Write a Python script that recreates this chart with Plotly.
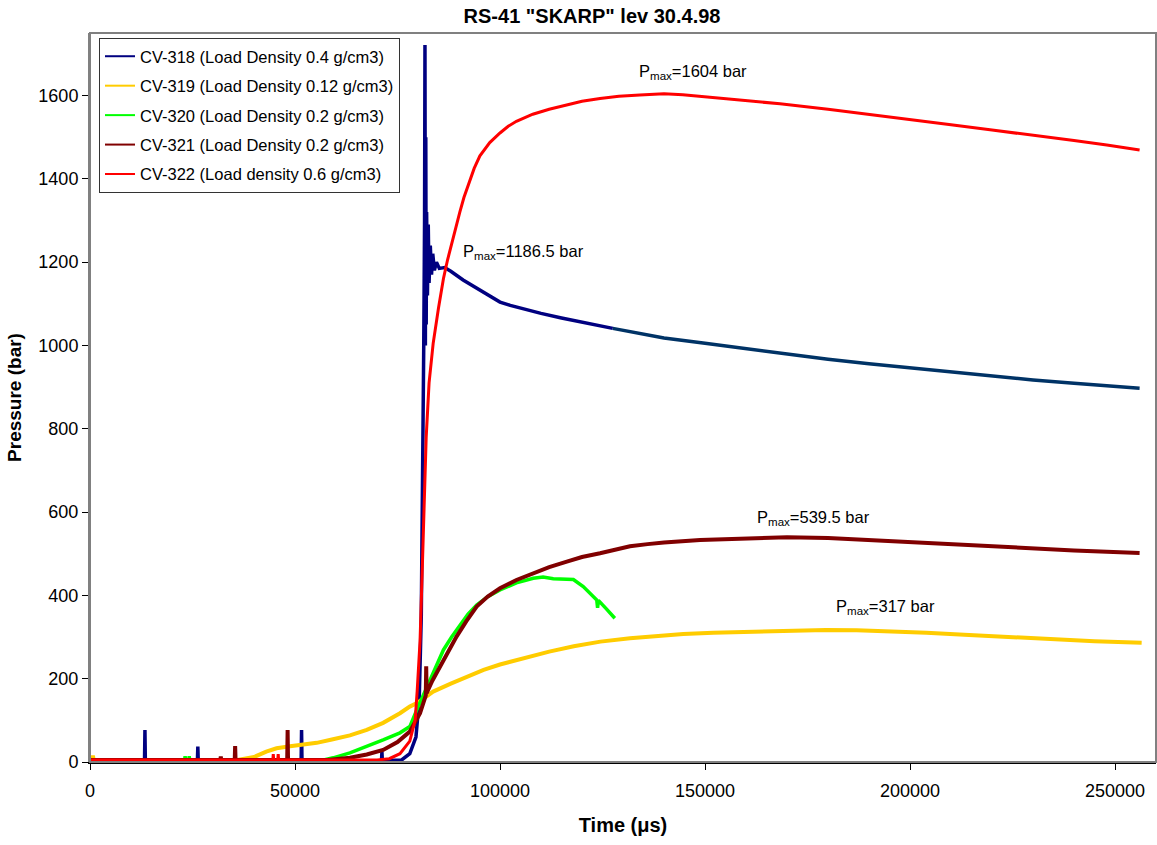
import plotly.graph_objects as go

# ---------------- data (time in microseconds, pressure in bar) ----------------
t_318 = [0, 13300, 13400, 13500, 26200, 26300, 26400, 51500, 51600, 51700,
         71100, 71200, 71300, 76000, 78000, 79500, 80300, 80800, 81200, 81400,
         81600, 81700, 81800, 81900, 82000, 82100, 82300, 82500, 82700, 83000,
         83300, 83600, 84000, 84500, 85200, 86500, 88000, 91000, 93000, 95000,
         97500, 100000, 102500, 105000, 110000, 115000, 120000, 125000, 127500]
p_318 = [3, 3, 77, 3, 3, 37, 3, 3, 77, 3,
         3, 25, 3, 5, 20, 60, 150, 350, 700, 1000,
         1300, 1721, 1000, 1500, 1050, 1320, 1120, 1290, 1150, 1240,
         1170, 1220, 1180, 1200, 1185, 1187, 1178, 1157, 1145, 1132,
         1117, 1104, 1096, 1089, 1077, 1066, 1056, 1046, 1041]
t_318_tail = [127500, 130000, 140000, 150000, 160000, 170000, 180000, 190000,
              200000, 210000, 220000, 230000, 240000, 250000, 256000]
p_318_tail = [1041, 1036, 1018, 1005, 992, 979, 967, 956,
              946, 936, 926, 917, 909, 901, 897]

t_319 = [0, 500, 700, 900, 36000, 38000, 40000, 43000, 45500, 48800, 51000,
         55300, 59000, 63400, 67500, 71500, 75600, 78000, 80000, 83700, 88000,
         91900, 96000, 100000, 105000, 112000, 118000, 124500, 131700, 138000,
         144700, 152000, 158000, 164600, 172000, 179500, 187000, 194400, 204000,
         214400, 224000, 234300, 245000, 256500]
p_319 = [5, 5, 15, 5, 5, 8, 12, 25, 33, 38, 40,
         46, 54, 64, 77, 94, 117, 133, 143, 169, 188,
         205, 221, 234, 247, 265, 278, 289, 297, 302,
         307, 310, 312, 313, 315, 317, 316, 314, 310,
         305, 300, 294, 290, 286]

t_320 = [0, 23100, 23200, 23300, 24100, 24200, 24300, 57000, 59300, 63400,
         67500, 71500, 75600, 78000, 79700, 81300, 82900, 84500, 86200, 88200,
         90200, 92200, 94300, 97000, 100000, 104000, 108100, 110500, 113000,
         115500, 117900, 120300, 122000, 123600, 123800, 124000, 126000, 128000]
p_320 = [5, 5, 14, 5, 5, 14, 5, 5, 10, 22,
         37, 53, 70, 85, 125, 160, 197, 235, 269, 300,
         329, 355, 377, 397, 413, 430, 441, 444, 440,
         438, 438, 421, 405, 389, 370, 388, 367, 345]

t_321 = [0, 31800, 31900, 32000, 35300, 35400, 35500, 48100, 48200, 48300,
         58000, 63400, 67500, 71500, 75000, 78000, 80500, 81900, 82000, 82100,
         83500, 85400, 87500, 89400, 91800, 94300, 97000, 100000, 104000, 108100,
         112000, 116300, 120000, 124400, 128000, 131700, 136000, 140000, 148800,
         160000, 170000, 180000, 189400, 197000, 205600, 214000, 222000, 230000,
         240000, 248000, 256000]
p_321 = [5, 5, 13, 5, 5, 38, 5, 5, 77, 5,
         5, 10, 18, 29, 48, 73, 117, 160, 230, 165,
         195, 229, 266, 301, 338, 373, 397, 417, 437, 453,
         468, 481, 492, 501, 510, 518, 523, 527, 533,
         537, 539.5, 538, 533, 529, 525, 521, 517, 513,
         508, 505, 502]

t_322 = [0, 44600, 44700, 44800, 45800, 45900, 46000, 70000, 73000, 75600,
         78000, 79300, 79800, 80500, 81000, 81500, 82000, 82700, 83700, 85000,
         86200, 87200, 88200, 89200, 90200, 91200, 92300, 93700, 95100, 97500,
         100000, 102000, 104000, 108000, 112000, 116300, 120000, 124400, 129000,
         134100, 140000, 144600, 150000, 156900, 162000, 168300, 180000, 190000,
         200000, 210000, 220000, 230000, 240000, 248000, 256000]
p_322 = [5, 5, 19, 5, 5, 19, 5, 5, 8, 20,
         50, 100, 170, 290, 450, 600, 780, 910, 1005, 1090,
         1160, 1205, 1245, 1285, 1320, 1355, 1388, 1425, 1455, 1487,
         1510, 1526, 1538, 1555, 1567, 1577, 1586, 1593, 1598,
         1601, 1604, 1602, 1597, 1590, 1586, 1580, 1567, 1555,
         1542, 1530, 1517, 1505, 1492, 1481, 1469]

names = ["CV-318 (Load Density 0.4 g/cm3)",
         "CV-319 (Load Density 0.12 g/cm3)",
         "CV-320 (Load Density 0.2 g/cm3)",
         "CV-321 (Load Density 0.2 g/cm3)",
         "CV-322 (Load density 0.6 g/cm3)"]
colors = ["#000080", "#FFCC00", "#00FF00", "#800000", "#FF0000"]
tail_color = "#003366"

# peak labels: (x, y, text)
peak_x = [133400, 90600, 162200, 181500]
peak_y = [1656, 1225, 585, 373]
peak_txt = ["1604", "1186.5", "539.5", "317"]

x_ticks = [0, 50000, 100000, 150000, 200000, 250000]
y_ticks = [0, 200, 400, 600, 800, 1000, 1200, 1400, 1600]

FONT = "Liberation Sans, Arial, sans-serif"

fig = go.Figure()

series = [(t_318, p_318, 3.5), (t_319, p_319, 4), (t_320, p_320, 3.5),
          (t_321, p_321, 4), (t_322, p_322, 3)]
for i, (t, p, w) in enumerate(series):
    fig.add_trace(go.Scatter(x=t, y=p, mode="lines", showlegend=False,
                             line=dict(color=colors[i], width=w), hoverinfo="x+y"))
    if i == 0:
        fig.add_trace(go.Scatter(x=t_318_tail, y=p_318_tail, mode="lines",
                                 showlegend=False,
                                 line=dict(color=tail_color, width=3.5)))

# legend entries with thin sample lines
for i, n in enumerate(names):
    fig.add_trace(go.Scatter(x=[None], y=[None], mode="lines", name=n,
                             legendgroup=f"g{i}",
                             line=dict(color=colors[i], width=2)))

for x, y, v in zip(peak_x, peak_y, peak_txt):
    fig.add_annotation(x=x, y=y, xref="x", yref="y", xanchor="left", yanchor="middle",
                       text=f"P<sub>max</sub>={v} bar", showarrow=False,
                       font=dict(family=FONT, size=16.5, color="#000"))

fig.add_shape(type="rect", xref="paper", yref="paper", x0=0, x1=1, y0=0, y1=1,
              line=dict(color="#808080", width=2), layer="above")

fig.update_layout(
    width=1157, height=845,
    margin=dict(l=90, r=1, t=33, b=83, pad=0),
    paper_bgcolor="white", plot_bgcolor="white",
    font=dict(family=FONT, size=18, color="#000"),
    title=dict(text="<b>RS-41 \"SKARP\" lev 30.4.98</b>", x=592 / 1157, xanchor="center",
               y=1 - 16 / 845, yanchor="middle", font=dict(family=FONT, size=20)),
    xaxis=dict(range=[0, 260000], tickvals=x_ticks, tickformat="d",
               ticks="outside", ticklen=6, tickcolor="#000", showline=True,
               linecolor="#000", linewidth=1.5, showgrid=False, zeroline=False,
               tickfont=dict(size=18), ticklabelstandoff=6,
               title=dict(text="<b>Time (μs)</b>", standoff=18, font=dict(size=20))),
    yaxis=dict(range=[0, 1750], tickvals=y_ticks, ticks="outside", ticklen=6,
               tickcolor="#000", showline=True, linecolor="#808080", linewidth=2,
               showgrid=False, zeroline=False, tickfont=dict(size=18),
               title=dict(text="<b>Pressure (bar)</b>", standoff=12, font=dict(size=19))),
    legend=dict(x=(99 - 90) / 1066, y=1 - (38 - 33) / 729, xanchor="left", yanchor="top",
                bgcolor="white", bordercolor="#333", borderwidth=1,
                tracegroupgap=5,
                font=dict(family=FONT, size=16.5)),
)

fig.write_html("out.html")
